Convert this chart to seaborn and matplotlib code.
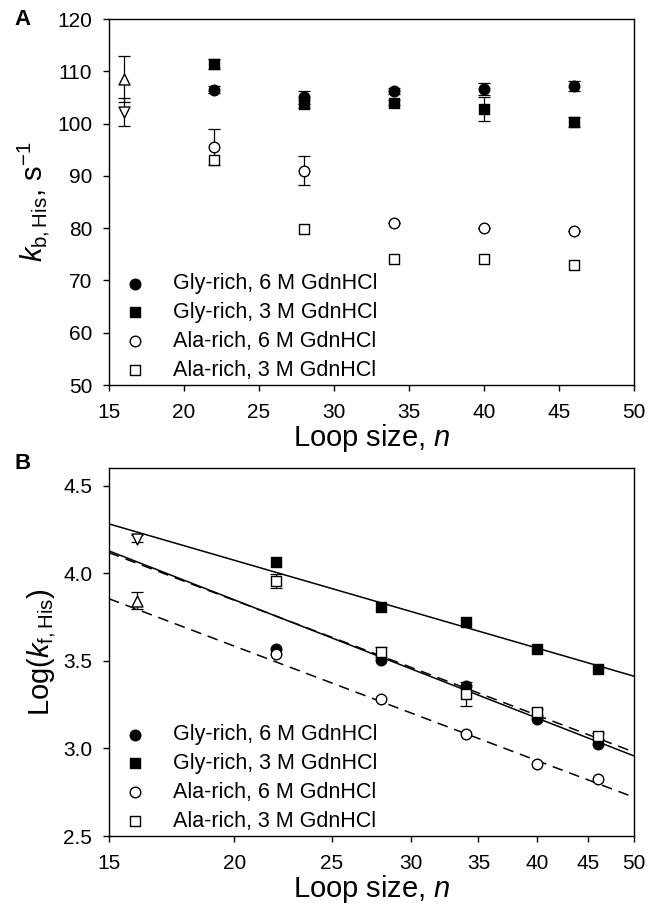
import matplotlib
matplotlib.use("Agg")
import matplotlib.pyplot as plt
from matplotlib.ticker import ScalarFormatter, NullLocator, FormatStrFormatter
import seaborn as sns
import numpy as np

# ---- panel A data: k_b,His (s^-1) vs loop size ----
loop_n = [22, 28, 34, 40, 46]
a_gly6 = [106.5, 105.0, 106.3, 106.6, 107.2]
a_gly6_err = [0.6, 1.2, 0.6, 1.2, 1.0]
a_gly3 = [111.4, 103.8, 104.0, 102.8, 100.3]
a_gly3_err = [1.0, 0.8, 0.5, 2.3, 1.0]
a_ala6 = [95.5, 91.0, 81.0, 80.0, 79.4]
a_ala6_err = [3.4, 2.8, 0.0, 0.0, 0.0]
a_ala3 = [93.0, 79.9, 74.1, 74.1, 73.0]

# the n = 16 reference points (open triangles)
tri_n = [16]
a_tri_up, a_tri_up_err = [108.5], [4.4]
a_tri_dn, a_tri_dn_err = [102.2], [2.7]

# ---- panel B data: Log(k_f,His) vs loop size (log axis) ----
b_gly6 = [3.567, 3.504, 3.355, 3.169, 3.024]
b_gly3 = [4.062, 3.809, 3.723, 3.569, 3.454]
b_ala6 = [3.540, 3.283, 3.081, 2.913, 2.824]
b_ala3 = [3.953, 3.551, 3.310, 3.208, 3.071]
b_ala3_err = [0.04, 0.03, 0.07, 0.015, 0.015]
b_tri_dn, b_tri_dn_err = [4.195], [0.02]
b_tri_up, b_tri_up_err = [3.843], [0.05]

fit_n = [15, 50]
fit_gly3 = [4.281, 3.412]
fit_gly6 = [4.127, 2.957]
fit_ala3 = [4.117, 2.979]
fit_ala6 = [3.854, 2.721]

labels = ["Gly-rich, 6 M GdnHCl", "Gly-rich, 3 M GdnHCl",
          "Ala-rich, 6 M GdnHCl", "Ala-rich, 3 M GdnHCl"]

sns.set_style("ticks")
plt.rcParams['font.family'] = ['Liberation Sans', 'DejaVu Sans']
plt.rcParams['mathtext.fontset'] = 'custom'
plt.rcParams['mathtext.rm'] = 'Liberation Sans'
plt.rcParams['mathtext.it'] = 'Liberation Sans:italic'
plt.rcParams['mathtext.bf'] = 'Liberation Sans:bold'
for key in ['text.color', 'axes.labelcolor', 'xtick.color', 'ytick.color', 'axes.edgecolor']:
    plt.rcParams[key] = 'black'

fig = plt.figure(figsize=(6.51, 9.10), dpi=100)
axA = fig.add_axes([0.1674, 0.5769, 0.8065, 0.4022])
axB = fig.add_axes([0.1674, 0.0813, 0.8065, 0.4044])

ebar = dict(fmt='none', ecolor='black', elinewidth=0.9, capsize=4.5, capthick=0.9, zorder=1)


def draw_points(ax, g6, g3, a6, a3):
    sns.scatterplot(x=loop_n, y=g6, marker='o', color='black', edgecolor='black',
                    s=58, linewidth=1, ax=ax, label=labels[0], zorder=3)
    sns.scatterplot(x=loop_n, y=g3, marker='s', color='black', edgecolor='black',
                    s=46, linewidth=1, ax=ax, label=labels[1], zorder=3)
    sns.scatterplot(x=loop_n, y=a6, marker='o', color='white', edgecolor='black',
                    s=58, linewidth=1, ax=ax, label=labels[2], zorder=4)
    sns.scatterplot(x=loop_n, y=a3, marker='s', color='white', edgecolor='black',
                    s=44, linewidth=1, ax=ax, label=labels[3], zorder=4)


def triangles(ax, up, up_err, dn, dn_err):
    ax.errorbar(tri_n, up, yerr=up_err, **ebar)
    ax.errorbar(tri_n, dn, yerr=dn_err, **ebar)
    sns.scatterplot(x=tri_n, y=up, marker='^', color='white', edgecolor='black',
                    s=62, linewidth=1, ax=ax, zorder=4)
    sns.scatterplot(x=tri_n, y=dn, marker='v', color='white', edgecolor='black',
                    s=62, linewidth=1, ax=ax, zorder=4)


def style_axes(ax):
    for sp in ax.spines.values():
        sp.set_visible(True)
        sp.set_color('black')
        sp.set_linewidth(1.0)
    ax.tick_params(axis='both', direction='out', length=4, width=1,
                   labelsize=15, colors='black')
    ax.tick_params(axis='y', pad=8)
    ax.tick_params(axis='x', pad=9)
    h, l = ax.get_legend_handles_labels()
    keep = [(hh, ll) for hh, ll in zip(h, l) if ll in labels]
    ax.legend([k[0] for k in keep], [k[1] for k in keep], loc='lower left',
              bbox_to_anchor=(0.03, 0.012), frameon=False, fontsize=15.5,
              handlelength=1.0, handletextpad=1.25, labelspacing=0.36,
              borderaxespad=0, borderpad=0, labelcolor='black')


# ---- panel A ----
axA.errorbar(loop_n, a_gly6, yerr=a_gly6_err, **ebar)
axA.errorbar(loop_n, a_gly3, yerr=a_gly3_err, **ebar)
axA.errorbar(loop_n, a_ala6, yerr=a_ala6_err, **ebar)
triangles(axA, a_tri_up, a_tri_up_err, a_tri_dn, a_tri_dn_err)
draw_points(axA, a_gly6, a_gly3, a_ala6, a_ala3)
axA.set_xlim(15, 50)
axA.set_ylim(50, 120)
axA.set_xticks(range(15, 51, 5))
axA.set_yticks(range(50, 121, 10))
axA.set_xlabel(r'Loop size, $n$', fontsize=21, labelpad=0)
axA.set_ylabel(r'$k_{\mathrm{b,His}}$, s$^{-1}$', fontsize=21, labelpad=4)
style_axes(axA)

# ---- panel B ----
axB.set_xscale('log')
axB.plot(fit_n, fit_gly3, color='black', lw=1.1, zorder=2)
axB.plot(fit_n, fit_gly6, color='black', lw=1.1, zorder=2)
axB.plot(fit_n, fit_ala3, color='black', lw=1.1, dashes=(7, 4.5), zorder=2)
axB.plot(fit_n, fit_ala6, color='black', lw=1.1, dashes=(7, 4.5), zorder=2)
axB.errorbar(loop_n, b_ala3, yerr=b_ala3_err, **ebar)
triangles(axB, b_tri_up, b_tri_up_err, b_tri_dn, b_tri_dn_err)
draw_points(axB, b_gly6, b_gly3, b_ala6, b_ala3)
axB.set_xlim(15, 50)
axB.set_ylim(2.5, 4.6)
axB.set_xticks(range(15, 51, 5))
axB.xaxis.set_major_formatter(ScalarFormatter())
axB.xaxis.set_minor_locator(NullLocator())
axB.set_yticks(np.arange(2.5, 4.51, 0.5))
axB.yaxis.set_major_formatter(FormatStrFormatter('%.1f'))
axB.set_xlabel(r'Loop size, $n$', fontsize=21, labelpad=0)
axB.set_ylabel(r'Log($k_{\mathrm{f,His}}$)', fontsize=21, labelpad=4)
style_axes(axB)

fig.text(0.022, 0.979, 'A', fontsize=16, fontweight='bold', va='center')
fig.text(0.022, 0.491, 'B', fontsize=16, fontweight='bold', va='center')

fig.savefig('out.png', dpi=100)
